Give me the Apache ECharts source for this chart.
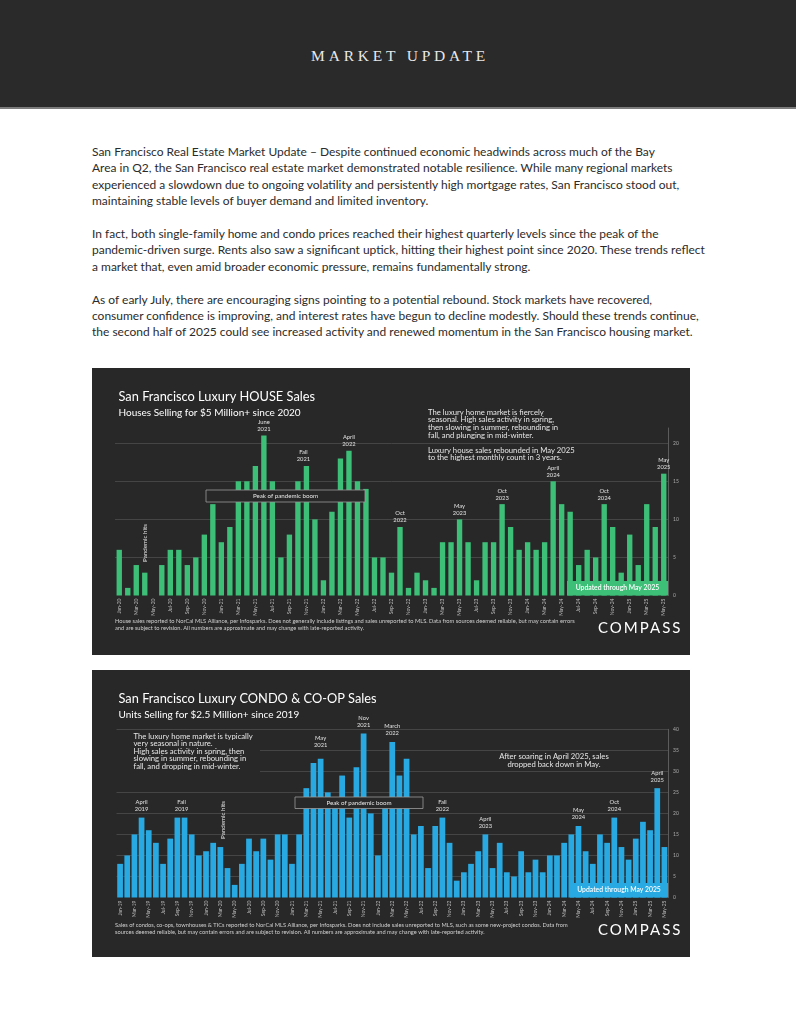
<!DOCTYPE html>
<html><head><meta charset="utf-8">
<script src="https://cdn.jsdelivr.net/npm/echarts@6/dist/echarts.min.js"></script>
<style>
html,body{margin:0;padding:0;background:#fff;width:796px;height:1024px;overflow:hidden;}
#hdr{position:absolute;left:0;top:0;width:796px;height:107px;background:#2a2a2a;border-bottom:2px solid #7c7c7c;}
#hdr span{position:absolute;left:0;width:796px;top:47px;text-align:center;font-family:"Liberation Serif",serif;font-size:15.5px;letter-spacing:3.8px;padding-left:4px;box-sizing:border-box;color:#e8e8e8;}
#txt{position:absolute;left:92px;top:144px;font-family:Lato,sans-serif;font-size:12.5px;line-height:16.4px;color:#2b2b2b;white-space:nowrap;}
#txt div{height:16.4px;}
.chart{position:absolute;left:92px;width:598px;height:287px;}
.logo{position:absolute;left:598px;font-family:Lato,sans-serif;font-size:15px;letter-spacing:2px;color:#fff;line-height:16px;}
</style></head>
<body>
<div id="hdr"><span>MARKET UPDATE</span></div>
<div id="txt">
<div>San Francisco Real Estate Market Update – Despite continued economic headwinds across much of the Bay</div>
<div>Area in Q2, the San Francisco real estate market demonstrated notable resilience. While many regional markets</div>
<div>experienced a slowdown due to ongoing volatility and persistently high mortgage rates, San Francisco stood out,</div>
<div>maintaining stable levels of buyer demand and limited inventory.</div>
<div>&nbsp;</div>
<div>In fact, both single-family home and condo prices reached their highest quarterly levels since the peak of the</div>
<div id="longest">pandemic-driven surge. Rents also saw a significant uptick, hitting their highest point since 2020. These trends reflect</div>
<div>a market that, even amid broader economic pressure, remains fundamentally strong.</div>
<div>&nbsp;</div>
<div>As of early July, there are encouraging signs pointing to a potential rebound. Stock markets have recovered,</div>
<div>consumer confidence is improving, and interest rates have begun to decline modestly. Should these trends continue,</div>
<div>the second half of 2025 could see increased activity and renewed momentum in the San Francisco housing market.</div>
</div>
<div id="c1" class="chart" style="top:368px"></div>
<div id="c2" class="chart" style="top:670px"></div>
<div class="logo" style="top:619px">COMPASS</div>
<div class="logo" style="top:921px">COMPASS</div>
<script>
// ---------- DATA ----------
const houseMonths = ("Jan-20 Feb-20 Mar-20 Apr-20 May-20 Jun-20 Jul-20 Aug-20 Sep-20 Oct-20 Nov-20 Dec-20 " +
  "Jan-21 Feb-21 Mar-21 Apr-21 May-21 Jun-21 Jul-21 Aug-21 Sep-21 Oct-21 Nov-21 Dec-21 " +
  "Jan-22 Feb-22 Mar-22 Apr-22 May-22 Jun-22 Jul-22 Aug-22 Sep-22 Oct-22 Nov-22 Dec-22 " +
  "Jan-23 Feb-23 Mar-23 Apr-23 May-23 Jun-23 Jul-23 Aug-23 Sep-23 Oct-23 Nov-23 Dec-23 " +
  "Jan-24 Feb-24 Mar-24 Apr-24 May-24 Jun-24 Jul-24 Aug-24 Sep-24 Oct-24 Nov-24 Dec-24 " +
  "Jan-25 Feb-25 Mar-25 Apr-25 May-25").split(" ");
const houseSales = [6,1,4,3,0,4,6,6,4,5,8,12,
  7,9,15,15,17,21,15,5,8,15,17,10,
  2,11,18,19,15,14,5,5,3,9,1,3,
  2,1,7,7,10,7,2,7,7,12,9,6,
  7,6,7,15,12,11,4,6,5,12,9,3,
  8,4,12,9,16];
const houseNotes = [["Jun-21","June\n2021"],["Nov-21","Fall\n2021"],["Apr-22","April\n2022"],["Oct-22","Oct\n2022"],
  ["May-23","May\n2023"],["Oct-23","Oct\n2023"],["Apr-24","April\n2024"],["Oct-24","Oct\n2024"],["May-25","May\n2025"]];
const houseTicks = [0,5,10,15,20];

const condoMonths = ("Jan-19 Feb-19 Mar-19 Apr-19 May-19 Jun-19 Jul-19 Aug-19 Sep-19 Oct-19 Nov-19 Dec-19 " +
  "Jan-20 Feb-20 Mar-20 Apr-20 May-20 Jun-20 Jul-20 Aug-20 Sep-20 Oct-20 Nov-20 Dec-20 " +
  "Jan-21 Feb-21 Mar-21 Apr-21 May-21 Jun-21 Jul-21 Aug-21 Sep-21 Oct-21 Nov-21 Dec-21 " +
  "Jan-22 Feb-22 Mar-22 Apr-22 May-22 Jun-22 Jul-22 Aug-22 Sep-22 Oct-22 Nov-22 Dec-22 " +
  "Jan-23 Feb-23 Mar-23 Apr-23 May-23 Jun-23 Jul-23 Aug-23 Sep-23 Oct-23 Nov-23 Dec-23 " +
  "Jan-24 Feb-24 Mar-24 Apr-24 May-24 Jun-24 Jul-24 Aug-24 Sep-24 Oct-24 Nov-24 Dec-24 " +
  "Jan-25 Feb-25 Mar-25 Apr-25 May-25").split(" ");
const condoSales = [8,10,15,19,16,13,8,14,19,19,15,10,
  11,13,12,7,3,8,14,11,14,9,15,15,
  8,15,26,32,33,25,23,29,19,31,39,20,
  10,22,37,29,33,15,17,7,17,19,13,4,
  6,8,11,15,7,13,6,5,11,6,9,6,
  10,10,13,15,17,11,8,15,13,19,12,9,
  14,18,16,26,12];
const condoNotes = [["Apr-19","April\n2019"],["Oct-19","Fall\n2019"],["May-21","May\n2021"],["Nov-21","Nov\n2021"],
  ["Mar-22","March\n2022"],["Oct-22","Fall\n2022"],["Apr-23","April\n2023"],["May-24","May\n2024"],
  ["Oct-24","Oct\n2024"],["Apr-25","April\n2025"]];
const condoTicks = [0,5,10,15,20,25,30,35,40];

// ---------- STYLE / BUILD ----------
const BG = "#282828";
const FONT = "Lato, sans-serif";
const GREEN = "#3dbf78";
const BLUE = "#29a9e1";
const noteShift = {"Nov-21|h":[-3,0],"Oct-19|c":[-3,0],"May-21|c":[0,-5]};

function txt(x,y,text,opt){
  return Object.assign({type:"text",x:x,y:y,z:100,silent:true,
    style:Object.assign({text:text,fill:"#e6e6e6",font:"7.7px "+FONT,textAlign:"left",textVerticalAlign:"top"},opt||{})});
}

function build(dom,o){
  const chart = echarts.init(dom,null,{renderer:"canvas"});
  const notes = new Map(o.notes);
  const data = o.values.map((v,i)=>{
    const n = notes.get(o.cats[i]);
    if(!n) return v;
    const sh = noteShift[o.cats[i]+"|"+o.key] || [0,0];
    return {value:v,label:{show:true,formatter:n,offset:sh}};
  });
  chart.setOption({
    backgroundColor:BG,
    animation:false,
    title:{text:o.title,subtext:o.sub,left:21.5,top:17.5,itemGap:4,
      textStyle:{color:"#fff",fontFamily:FONT,fontSize:12.8,fontWeight:"normal"},
      subtextStyle:{color:"#fff",fontFamily:FONT,fontSize:10}},
    grid:{left:o.gl,right:22,top:o.gt,bottom:59.5},
    xAxis:{type:"category",data:o.cats,axisLine:{show:false},axisTick:{show:false},
      axisLabel:{interval:1,rotate:90,fontSize:5,color:"#bdbdbd",margin:3,fontFamily:FONT}},
    yAxis:{type:"value",position:"right",min:0,max:o.max,interval:5,
      axisLine:{show:true,lineStyle:{color:"#6a6a6a",width:0.8}},axisTick:{show:false},
      axisLabel:{fontSize:5,color:"#aaa",margin:5,fontFamily:FONT,
        formatter:(v)=>o.ticks.indexOf(v)>=0?String(v):""},
      splitLine:{show:true,showMinLine:false,showMaxLine:o.maxLine,lineStyle:{color:"#4c4c4c",width:0.8}}},
    series:[{type:"bar",data:data,barCategoryGap:o.gap,itemStyle:{color:o.color},
      label:{show:false,position:"top",distance:o.dist,color:"#e0e0e0",fontSize:5.8,lineHeight:7,fontFamily:FONT,align:"center"}}],
    graphic:o.graphic
  });
  return chart;
}

const houseGraphic = [
  txt(336,40.3,"The luxury home market is fiercely\nseasonal. High sales activity in spring,\nthen slowing in summer, rebounding in\nfall, and plunging in mid-winter.",{lineHeight:7.8}),
  txt(336,78.3,"Luxury house sales rebounded in May 2025\nto the highest monthly count in 3 years.",{lineHeight:7.8}),
  {type:"rect",z:100,silent:true,shape:{x:114,y:122,width:159,height:12},style:{fill:BG,stroke:"#9a9a9a",lineWidth:0.8}},
  txt(193.5,128,"Peak of pandemic boom",{textAlign:"center",textVerticalAlign:"middle",font:"6.2px "+FONT}),
  Object.assign(txt(53.5,175,"Pandemic hits",{textAlign:"center",textVerticalAlign:"middle",font:"6.2px "+FONT}),{rotation:Math.PI/2}),
  {type:"rect",z:100,silent:true,shape:{x:475,y:213,width:101,height:14.5},style:{fill:GREEN}},
  txt(525.5,220,"Updated through May 2025",{textAlign:"center",textVerticalAlign:"middle",font:"600 6.8px "+FONT,fill:"#fff"}),
  txt(23,250,"House sales reported to NorCal MLS Alliance, per Infosparks. Does not generally include listings and sales unreported to MLS. Data from sources deemed reliable, but may contain errors\nand are subject to revision. All numbers are approximate and may change with late-reported activity.",{font:"5.7px "+FONT,lineHeight:7,fill:"#cfcfcf"})
];
const condoGraphic = [
  {type:"rect",z:99,silent:true,shape:{x:23,y:61,width:145,height:44},style:{fill:BG}},
  txt(41.5,62.3,"The luxury home market is typically\nvery seasonal in nature.\nHigh sales activity in spring, then\nslowing in summer, rebounding in\nfall, and dropping in mid-winter.",{lineHeight:7.6}),
  txt(462,83.3,"After soaring in April 2025, sales\ndropped back down in May.",{textAlign:"center",lineHeight:7.4}),
  {type:"rect",z:100,silent:true,shape:{x:203,y:127,width:128,height:11.5},style:{fill:BG,stroke:"#9a9a9a",lineWidth:0.8}},
  txt(267,132.8,"Peak of pandemic boom",{textAlign:"center",textVerticalAlign:"middle",font:"6.2px "+FONT}),
  Object.assign(txt(131.5,150,"Pandemic hits",{textAlign:"center",textVerticalAlign:"middle",font:"6.2px "+FONT}),{rotation:Math.PI/2}),
  {type:"rect",z:100,silent:true,shape:{x:478,y:213,width:98,height:14.5},style:{fill:BLUE}},
  txt(527,220,"Updated through May 2025",{textAlign:"center",textVerticalAlign:"middle",font:"600 6.8px "+FONT,fill:"#fff"}),
  txt(23,252,"Sales of condos, co-ops, townhouses & TICs reported to NorCal MLS Alliance, per Infosparks. Does not include sales unreported to MLS, such as some new-project condos. Data from\nsources deemed reliable, but may contain errors and are subject to revision. All numbers are approximate and may change with late-reported activity.",{font:"5.7px "+FONT,lineHeight:7,fill:"#cfcfcf"})
];

build(document.getElementById("c1"),{key:"h",cats:houseMonths,values:houseSales,notes:houseNotes,ticks:houseTicks,
  title:"San Francisco Luxury HOUSE Sales",sub:"Houses Selling for $5 Million+ since 2020",
  gl:23,gt:60,max:22,maxLine:false,gap:"37%",color:GREEN,dist:3,graphic:houseGraphic});
build(document.getElementById("c2"),{key:"c",cats:condoMonths,values:condoSales,notes:condoNotes,ticks:condoTicks,
  title:"San Francisco Luxury CONDO & CO-OP Sales",sub:"Units Selling for $2.5 Million+ since 2019",
  gl:24.5,gt:59.3,max:40,maxLine:true,gap:"20%",color:BLUE,dist:5,graphic:condoGraphic});

// fit body text width to reference
(function(){
  const el = document.getElementById("longest");
  const w = el.scrollWidth;
  const txtEl = document.getElementById("txt");
  const fs = parseFloat(getComputedStyle(txtEl).fontSize);
  if (w>0) txtEl.style.fontSize = (fs*613/w).toFixed(2)+"px";
})();
</script>
</body></html>
